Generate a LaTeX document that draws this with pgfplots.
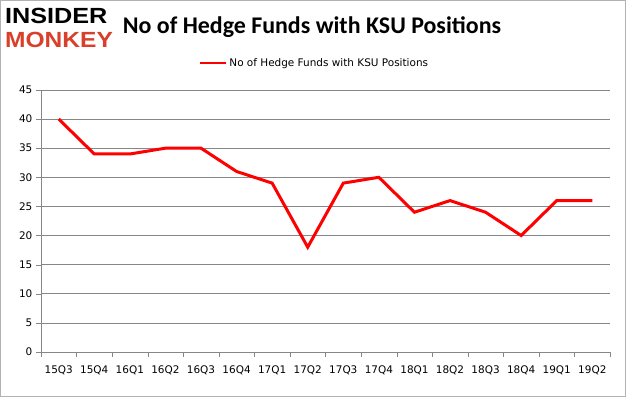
\documentclass[border=0pt]{standalone}
\usepackage{pgfplots}
\pgfplotsset{compat=1.18}
\usepackage{fontspec}
\setmainfont{Carlito}
\newfontfamily\logofont{Liberation Sans}
\newfontfamily\tickfont{DejaVu Sans}
\definecolor{logored}{HTML}{D9402B}
\definecolor{gridgray}{HTML}{878787}
\begin{document}
\begin{tikzpicture}[x=1bp,y=1bp]
\path[draw=gray!60, line width=0.8bp, fill=white] (0.5,0.5) rectangle (625.5,396.5);
\node[anchor=west, font=\logofont\bfseries\fontsize{22}{22}\selectfont, inner sep=0pt, xscale=1.15] at (5,381) {INSIDER};
\node[anchor=west, font=\logofont\bfseries\fontsize{22}{22}\selectfont, text=logored, inner sep=0pt, xscale=1.12] at (5,357) {MONKEY};
\node[font=\bfseries\fontsize{24}{24}\selectfont, inner sep=0pt] at (312,370) {No of Hedge Funds with KSU Positions};
\begin{axis}[
  at={(41bp,45bp)}, anchor=south west,
  scale only axis, width=569bp, height=262bp,
  xmin=-0.5, xmax=15.5, ymin=0, ymax=45,
  axis x line=bottom, axis y line=left,
  axis line style={gridgray, -},
  xtick={0,...,15},
  xticklabels={15Q3,15Q4,16Q1,16Q2,16Q3,16Q4,17Q1,17Q2,17Q3,17Q4,18Q1,18Q2,18Q3,18Q4,19Q1,19Q2},
  minor xtick={-0.5,0.5,...,15.5},
  major x tick style={draw=none},
  minor tick length=5bp,
  ytick={0,5,...,45},
  major tick length=5bp,
  tick align=outside,
  tick style={gridgray},
  ymajorgrids, grid style={gridgray, line width=0.6bp},
  tick label style={font=\tickfont\fontsize{10.5}{10.5}\selectfont},
  /pgf/number format/assume math mode=true,
  xticklabel style={yshift=-5bp},
  legend style={at={(0.5,1.0)}, anchor=south, yshift=18bp, xshift=-11bp, draw=none, font=\tickfont\fontsize{10.5}{10.5}\selectfont, legend columns=1},
  legend cell align=left,
  legend image code/.code={\draw[#1, line width=2.5bp] (0bp,0bp) -- (26bp,0bp);},
]
\addplot[color=red, line width=3bp, mark=none] coordinates {
(0,40) (1,34) (2,34) (3,35) (4,35) (5,31) (6,29) (7,18) (8,29) (9,30) (10,24) (11,26) (12,24) (13,20) (14,26) (15,26)
};
\addlegendentry{No of Hedge Funds with KSU Positions}
\end{axis}
\end{tikzpicture}
\end{document}
